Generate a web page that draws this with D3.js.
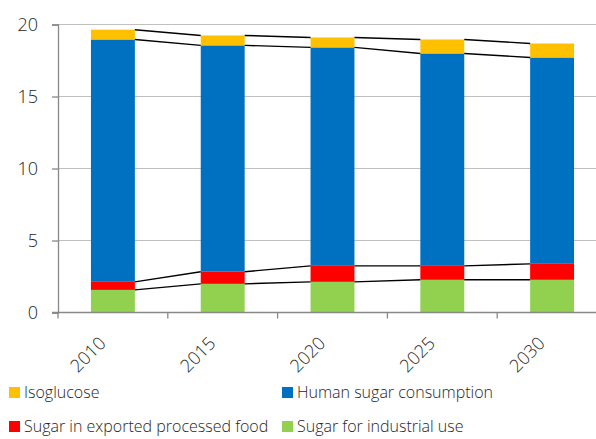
<!DOCTYPE html>
<meta charset="utf-8">
<style>
body { margin: 0; background: #fff; }
text { font-family: "Open Sans", sans-serif; font-weight: 300; fill: #262626; }
</style>
<body>
<script src="https://d3js.org/d3.v7.min.js"></script>
<script>
var width = 596,
    height = 439;

// data (bottom to top)
var years = ["2010", "2015", "2020", "2025", "2030"];
var industrial = [1.57, 1.99, 2.13, 2.27, 2.27];
var exported = [0.56, 0.84, 1.11, 0.97, 1.11];
var human = [16.83, 15.72, 15.17, 14.75, 14.33];
var isoglucose = [0.68, 0.69, 0.69, 0.97, 0.97];
var yTicks = [0, 5, 10, 15, 20];

var seriesNames = ["Sugar for industrial use", "Sugar in exported processed food", "Human sugar consumption", "Isoglucose"];
var seriesColors = ["#92d050", "#ff0000", "#0070c0", "#ffc000"];

var rows = years.map(function(y, i) {
  return {year: y, s0: industrial[i], s1: exported[i], s2: human[i], s3: isoglucose[i]};
});
var stack = d3.stack().keys(["s0", "s1", "s2", "s3"])(rows);

var x = d3.scaleBand().domain(years).range([58, 607]).paddingInner(0.6).paddingOuter(0.3);
var y = d3.scaleLinear().domain([0, 20]).range([312.5, 24.5]);

var svg = d3.select("body").append("svg")
    .attr("width", width)
    .attr("height", height);

// grid lines
svg.append("g").selectAll("line")
  .data(yTicks.filter(function(d) { return d > 0; }))
  .enter().append("line")
    .attr("x1", 58).attr("x2", 607)
    .attr("y1", function(d) { return y(d); })
    .attr("y2", function(d) { return y(d); })
    .attr("stroke", "#c0c0c0")
    .attr("stroke-width", 1.2);

// bars
svg.append("g").selectAll("g")
  .data(stack)
  .enter().append("g")
    .attr("fill", function(d, i) { return seriesColors[i]; })
  .selectAll("rect")
  .data(function(d) { return d; })
  .enter().append("rect")
    .attr("x", function(d) { return x(d.data.year); })
    .attr("width", x.bandwidth())
    .attr("y", function(d) { return y(d[1]); })
    .attr("height", function(d) { return y(d[0]) - y(d[1]); });

// series lines between bars
var link = d3.line().x(function(d) { return d[0]; }).y(function(d) { return d[1]; });
stack.forEach(function(s) {
  for (var i = 0; i < s.length - 1; i++) {
    svg.append("path")
      .attr("d", link([[x(years[i]) + x.bandwidth(), y(s[i][1])], [x(years[i + 1]), y(s[i + 1][1])]]))
      .attr("stroke", "#000")
      .attr("stroke-width", 1.4)
      .attr("fill", "none");
  }
});

// y axis
var yAxis = svg.append("g")
    .attr("transform", "translate(58,0)")
    .call(d3.axisLeft(y).tickValues(yTicks).tickSize(6).tickPadding(14));
yAxis.select(".domain").attr("stroke", "#888").attr("stroke-width", 1.3);
yAxis.selectAll(".tick line").attr("stroke", "#888").attr("stroke-width", 1.3);
yAxis.selectAll("text").style("font-size", "18px").attr("fill", "#262626");

// x axis
var xAxis = svg.append("g")
    .attr("transform", "translate(0,312.5)");
xAxis.append("line")
    .attr("x1", 52).attr("x2", 607)
    .attr("stroke", "#888").attr("stroke-width", 1.3);
xAxis.selectAll(".sep")
  .data(d3.range(years.length))
  .enter().append("line")
    .attr("class", "sep")
    .attr("x1", function(i) { return 58 + i * x.step(); })
    .attr("x2", function(i) { return 58 + i * x.step(); })
    .attr("y1", 0).attr("y2", 6)
    .attr("stroke", "#888").attr("stroke-width", 1.3);
xAxis.selectAll(".lbl")
  .data(years)
  .enter().append("text")
    .attr("class", "lbl")
    .attr("text-anchor", "end")
    .attr("transform", function(d) {
      return "translate(" + (x(d) + x.bandwidth() / 2 - 6) + ",32) rotate(-45)";
    })
    .style("font-size", "18px")
    .text(function(d) { return d; });

// legend
var legendItems = [
  {name: seriesNames[3], color: seriesColors[3], x: 9, y: 387},
  {name: seriesNames[2], color: seriesColors[2], x: 282, y: 387},
  {name: seriesNames[1], color: seriesColors[1], x: 9, y: 421},
  {name: seriesNames[0], color: seriesColors[0], x: 282, y: 421}
];
var lg = svg.append("g").selectAll("g")
  .data(legendItems)
  .enter().append("g")
    .attr("transform", function(d) { return "translate(" + d.x + "," + d.y + ")"; });
lg.append("rect")
    .attr("width", 11).attr("height", 11)
    .attr("fill", function(d) { return d.color; });
lg.append("text")
    .attr("x", 15).attr("y", 11)
    .style("font-size", "16px")
    .text(function(d) { return d.name; });
</script>
</body>
